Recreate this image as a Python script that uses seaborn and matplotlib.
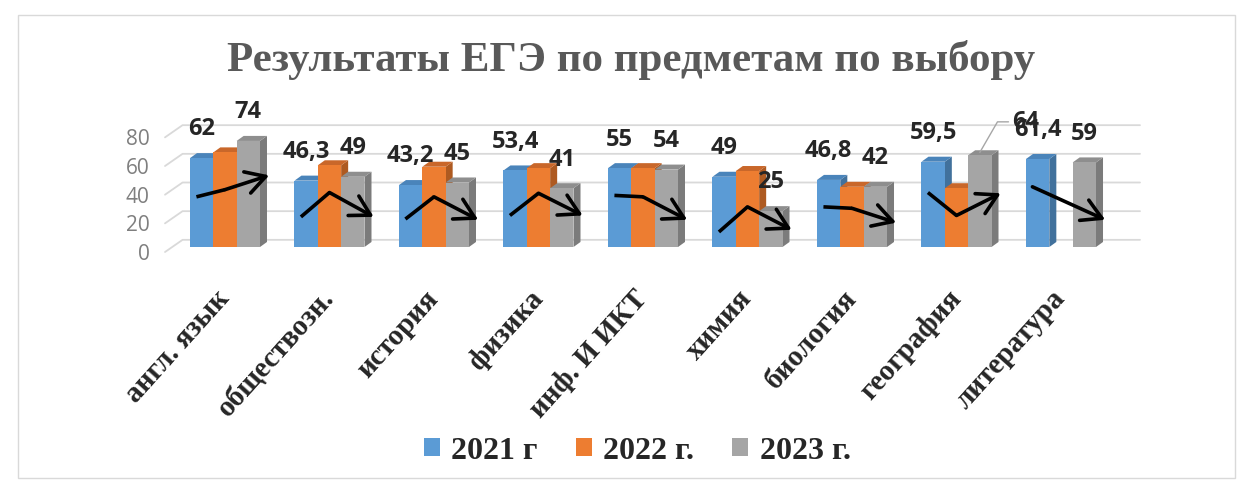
import numpy as np
import pandas as pd
import matplotlib
matplotlib.use("Agg")
import matplotlib.pyplot as plt
import seaborn as sns
from matplotlib.patches import Polygon, Rectangle
from matplotlib.transforms import ScaledTranslation

# ---- data ----
subjects = ["англ. язык", "обществозн.", "история", "физика", "инф. И ИКТ",
            "химия", "биология", "география", "литература"]
years = ["2021 г", "2022 г.", "2023 г."]
scores_2021 = [62, 46.3, 43.2, 53.4, 55, 49, 46.8, 59.5, 61.4]
scores_2022 = [66, 57, 56, 55, 55, 53, 42, 41, np.nan]
scores_2023 = [74, 49, 45, 41, 54, 25, 42, 64, 59]
yticks = [0, 20, 40, 60, 80]

# levels of the hand-drawn trend arrows (start, kink, tip), in axis units
arrow_from = [35, 21, 19.5, 22, 36, 10.5, 28, 38, 42]
arrow_mid = [40, 38, 35, 37.5, 35, 28, 27, 22, np.nan]
arrow_to = [50, 21, 19, 22, 19, 12, 17, 37.5, 19]

colors = ["#5B9BD5", "#ED7D31", "#A5A5A5"]
side_colors = ["#41719C", "#AE5A21", "#7B7B7B"]
top_colors = ["#4A84BA", "#C9672A", "#8E8E8E"]

df = pd.DataFrame({
    "subject": subjects * 3,
    "year": np.repeat(years, len(subjects)),
    "score": scores_2021 + scores_2022 + scores_2023,
}).dropna()

sns.set_style("white")
plt.rcParams["font.family"] = ["Liberation Serif", "DejaVu Serif"]

W, H = 1247, 484
fig = plt.figure(figsize=(W / 100, H / 100), dpi=100)
ax = fig.add_axes([165 / W, (H - 247) / H, 975 / W, 129 / H])

sns.barplot(data=df, x="subject", y="score", hue="year", order=subjects,
            hue_order=years, palette=colors, width=0.67, errorbar=None,
            linewidth=0, saturation=1, ax=ax)

ax.set_xlim(-0.574, 8.756)
ax.set_ylim(0, 90)
for s in ax.spines.values():
    s.set_visible(False)
ax.set_xlabel("")
ax.set_ylabel("")

# pseudo-3D faces on every bar
dx, dy = 0.067, 3.5
pts = {i: [] for i in range(len(subjects))}
for k, cont in enumerate(ax.containers):
    for p in cont.patches:
        x0, w, h = p.get_x(), p.get_width(), p.get_height()
        if np.isnan(h):
            continue
        x1 = x0 + w
        z = 2 + k * 0.1
        p.set_zorder(z + 0.01)
        ax.add_patch(Polygon([(x1, 0), (x1 + dx, dy), (x1 + dx, h + dy), (x1, h)],
                             closed=True, color=side_colors[k], lw=0, zorder=z))
        ax.add_patch(Polygon([(x0, h), (x0 + dx, h + dy), (x1 + dx, h + dy), (x1, h)],
                             closed=True, color=top_colors[k], lw=0, zorder=z))
        pts[int(round(x0 + w / 2))].append((x0 + w / 2, h, k))

# back-wall gridlines
gt = ax.get_yaxis_transform()
for v in yticks:
    ax.plot([0, 0.018, 1], [v - 3.5, v + 5, v + 5], transform=gt,
            color="#d9d9d9", lw=1.3, zorder=0, clip_on=False)

ax.set_yticks(yticks)
ax.tick_params(axis="y", length=0, pad=11, labelsize=15, labelcolor="#7f7f7f")
for lab in ax.get_yticklabels():
    lab.set_fontfamily("Open Sans")
    lab.set_transform(lab.get_transform() + ScaledTranslation(0, -0.05, fig.dpi_scale_trans))

ax.set_xticks(range(len(subjects)))
ax.set_xticklabels(subjects, rotation=48, ha="right", va="center",
                   rotation_mode="anchor", fontsize=21, fontweight="bold")
ax.tick_params(axis="x", length=0, pad=34)

# value labels for 2021 and 2023
for i in range(len(subjects)):
    for xc, h, k in pts[i]:
        if k == 1:
            continue
        txt = f"{h:g}".replace(".", ",")
        if i == 7 and k == 2:
            ax.annotate(txt, xy=(xc, h + 2), xytext=(23, 22), textcoords="offset points",
                        ha="left", va="center", fontsize=17, fontweight="bold",
                        family="Open Sans", zorder=6,
                        arrowprops=dict(arrowstyle="-", color="#a6a6a6", lw=1,
                                        shrinkA=0, shrinkB=0, relpos=(0, 0.5),
                                        connectionstyle="angle,angleA=0,angleB=60,rad=0"))
        else:
            ax.annotate(txt, xy=(xc, h), xytext=(0, 12), textcoords="offset points",
                        ha="center", va="bottom", fontsize=17, fontweight="bold",
                        family="Open Sans", zorder=6)

# hand-drawn trend arrows
for i in range(len(subjects)):
    p = sorted(pts[i])
    xs = [p[0][0] - 0.05]
    ys = [arrow_from[i]]
    if not np.isnan(arrow_mid[i]):
        xs.append(p[1][0])
        ys.append(arrow_mid[i])
    xs.append(p[-1][0] + 0.2)
    ys.append(arrow_to[i])
    if len(xs) > 2:
        ax.plot(xs[:-1], ys[:-1], color="black", lw=2.6, zorder=7,
                solid_capstyle="butt", solid_joinstyle="miter")
    ax.annotate("", xy=(xs[-1], ys[-1]), xytext=(xs[-2], ys[-2]), zorder=7,
                arrowprops=dict(arrowstyle="->,head_length=0.7,head_width=0.4",
                                mutation_scale=20, color="black", lw=2.6,
                                shrinkA=0, shrinkB=0))

handles, labels = ax.get_legend_handles_labels()
if ax.get_legend() is not None:
    ax.get_legend().remove()
fig.legend(handles, labels, loc="center", bbox_to_anchor=(0.511, 0.068), ncol=3,
           frameon=False, handlelength=0.5, handleheight=0.5, handletextpad=0.35,
           columnspacing=1.2, prop={"family": "Liberation Serif", "weight": "bold", "size": 23})

fig.text(0.506, 0.876, "Результаты ЕГЭ по предметам по выбору", ha="center", va="center",
         fontsize=31, fontweight="bold", color="#595959")

fig.patches.append(Rectangle((18 / W, 6 / H), 1217 / W, 463 / H, transform=fig.transFigure,
                             fill=False, edgecolor="#d9d9d9", lw=1))

fig.savefig("out.png", dpi=100)
